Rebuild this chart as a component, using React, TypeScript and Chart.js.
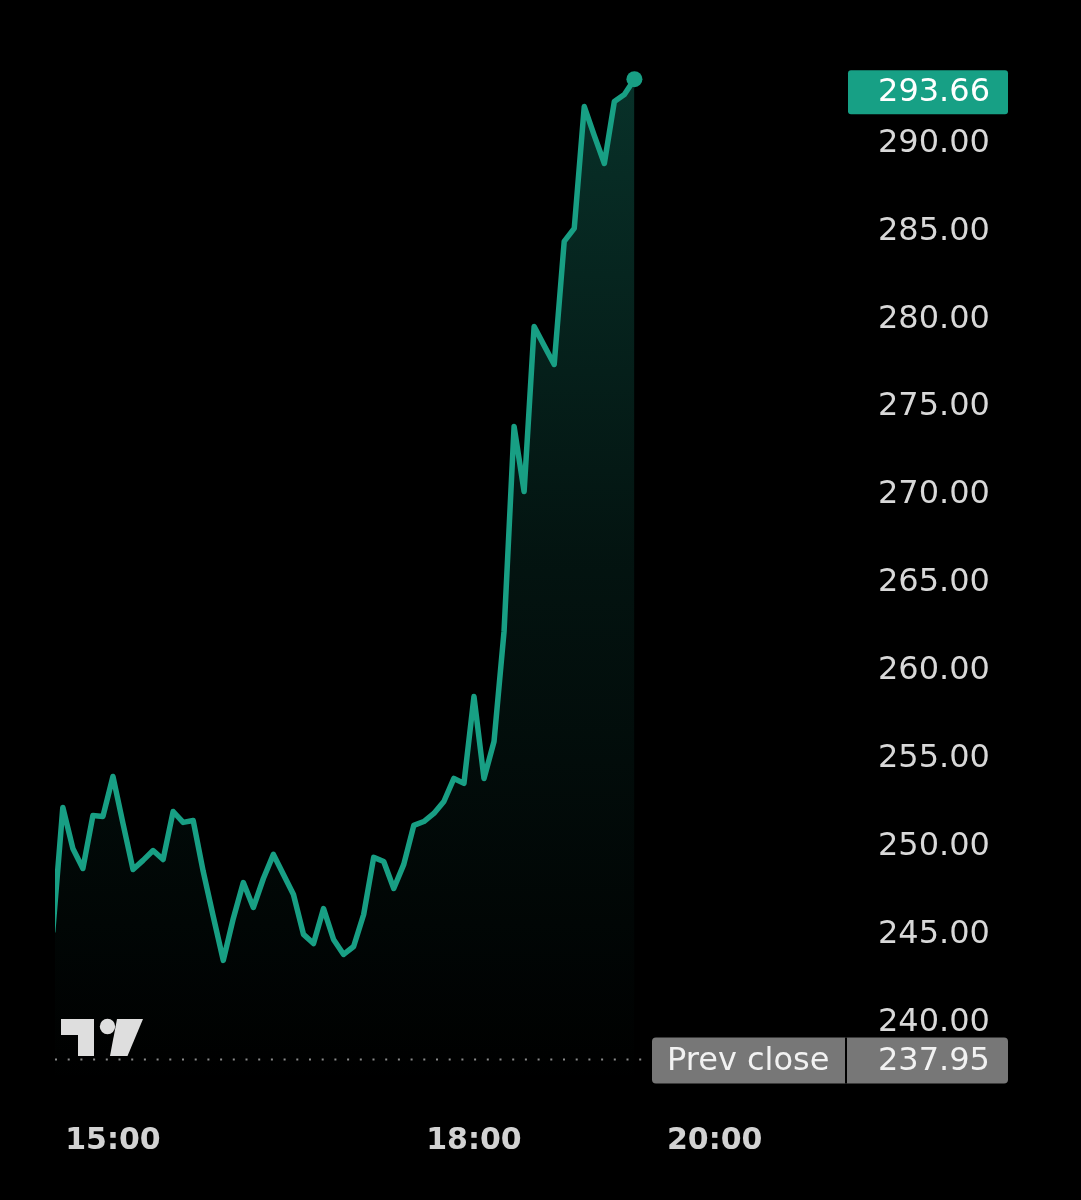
import React, { useEffect, useRef } from "react";
import { Chart, registerables } from "chart.js";

Chart.register(...registerables);

// Times (minutes after midnight), every 5 minutes from 14:30 to 19:20
const startMinute = 14 * 60 + 30;
const prices: number[] = [
  245.2, 252.23, 249.9, 248.76, 251.77, 251.72, 253.99, 251.32, 248.7, 249.22,
  249.78, 249.27, 252.0, 251.38, 251.49, 248.59, 246.03, 243.53, 245.92, 247.96,
  246.54, 248.19, 249.56, 248.42, 247.28, 245.01, 244.49, 246.48, 244.72, 243.87,
  244.32, 246.14, 249.39, 249.16, 247.62, 248.99, 251.21, 251.43, 251.89, 252.57,
  253.88, 253.6, 258.54, 253.88, 255.98, 262.24, 273.9, 270.2, 279.59, 278.5,
  277.43, 284.43, 285.17, 292.1, 290.45, 288.86, 292.39, 292.79, 293.66,
];
const times: number[] = prices.map((_, i) => startMinute + i * 5);

const xTickMinutes = [15 * 60, 18 * 60, 20 * 60];
const yTickValues = [240, 245, 250, 255, 260, 265, 270, 275, 280, 285, 290];
const lastPrice = 293.66;
const prevClose = 237.95;
const prevCloseLabel = "Prev close";

const LINE = "#189f84";
const FONT = "'DejaVu Sans', sans-serif";

function fmtTime(m: number) {
  const h = Math.floor(m / 60);
  const mm = m % 60;
  return `${h}:${mm.toString().padStart(2, "0")}`;
}

function roundRect(ctx: CanvasRenderingContext2D, x: number, y: number, w: number, h: number, r: number) {
  ctx.beginPath();
  ctx.moveTo(x + r, y);
  ctx.lineTo(x + w - r, y);
  ctx.quadraticCurveTo(x + w, y, x + w, y + r);
  ctx.lineTo(x + w, y + h - r);
  ctx.quadraticCurveTo(x + w, y + h, x + w - r, y + h);
  ctx.lineTo(x + r, y + h);
  ctx.quadraticCurveTo(x, y + h, x, y + h - r);
  ctx.lineTo(x, y + r);
  ctx.quadraticCurveTo(x, y, x + r, y);
  ctx.closePath();
}

const overlayPlugin = {
  id: "overlay",
  beforeDatasetsDraw(chart: any) {
    const ctx = chart.ctx as CanvasRenderingContext2D;
    const y = chart.scales.y.getPixelForValue(prevClose) + 1;
    const area = chart.chartArea;
    ctx.save();
    ctx.strokeStyle = "#8a8a8a";
    ctx.lineWidth = 2;
    ctx.setLineDash([2, 10.7]);
    ctx.beginPath();
    ctx.moveTo(area.left, y);
    ctx.lineTo(645, y);
    ctx.stroke();
    ctx.restore();
  },
  afterDraw(chart: any) {
    const ctx = chart.ctx as CanvasRenderingContext2D;
    const yS = chart.scales.y;
    const yLast = yS.getPixelForValue(lastPrice) + 13;
    ctx.save();
    ctx.fillStyle = "#17a085";
    roundRect(ctx, 848, yLast - 22, 160, 44, 3);
    ctx.fill();
    ctx.fillStyle = "#ffffff";
    ctx.font = `32px ${FONT}`;
    ctx.textAlign = "center";
    ctx.textBaseline = "middle";
    ctx.fillText(lastPrice.toFixed(2), 934, yLast + 1);

    const yPc = yS.getPixelForValue(prevClose) + 2;
    ctx.fillStyle = "#777777";
    roundRect(ctx, 652, yPc - 23, 356, 46, 4);
    ctx.fill();
    ctx.fillStyle = "#000000";
    ctx.fillRect(845, yPc - 23, 2, 46);
    ctx.fillStyle = "#f2f2f2";
    ctx.textAlign = "left";
    ctx.fillText(prevCloseLabel, 667, yPc + 1);
    ctx.fillText(prevClose.toFixed(2), 878, yPc + 1);

    // Logo
    ctx.fillStyle = "#dedede";
    ctx.fillRect(61, 1019, 33, 16);
    ctx.fillRect(78, 1019, 16, 37);
    ctx.beginPath();
    ctx.arc(107.5, 1026.5, 7.7, 0, Math.PI * 2);
    ctx.fill();
    ctx.beginPath();
    ctx.moveTo(117, 1019);
    ctx.lineTo(143, 1019);
    ctx.lineTo(127.5, 1056);
    ctx.lineTo(110, 1056);
    ctx.closePath();
    ctx.fill();
    ctx.restore();
  },
};

export default function App() {
  const ref = useRef<HTMLCanvasElement | null>(null);
  useEffect(() => {
    document.body.style.margin = "0";
    document.body.style.background = "#000";
    const canvas = ref.current!;
    const data = times.map((t, i) => ({ x: t, y: prices[i] }));
    const chart = new Chart(canvas, {
      type: "line",
      data: {
        datasets: [
          {
            data,
            borderColor: LINE,
            borderWidth: 5.5,
            borderJoinStyle: "round",
            borderCapStyle: "round",
            tension: 0,
            clip: 0 as any,
            fill: "start",
            backgroundColor: (c: any) => {
              const area = c.chart.chartArea;
              if (!area) return "rgba(26,160,134,0.1)";
              const g = c.chart.ctx.createLinearGradient(0, area.top, 0, area.bottom);
              g.addColorStop(0, "rgba(26,160,134,0.32)");
              g.addColorStop(0.5, "rgba(26,160,134,0.12)");
              g.addColorStop(1, "rgba(26,160,134,0.0)");
              return g;
            },
            pointRadius: (c: any) => (c.dataIndex === prices.length - 1 ? 8 : 0),
            pointBackgroundColor: LINE,
            pointBorderWidth: 0,
            pointHoverRadius: 0,
          },
        ],
      },
      options: {
        animation: false,
        responsive: false,
        events: [],
        layout: { padding: { left: 55, top: 38, right: 0, bottom: 0 } },
        plugins: { legend: { display: false }, tooltip: { enabled: false } },
        scales: {
          x: {
            type: "linear",
            min: 871.1,
            max: 1265,
            grid: { display: false, drawTicks: false },
            border: { display: false },
            afterBuildTicks: (s: any) => {
              s.ticks = xTickMinutes.map((v) => ({ value: v }));
            },
            afterFit: (s: any) => {
              s.height = 116;
              s.paddingLeft = 0;
              s.paddingRight = 0;
              s.paddingTop = 0;
              s.paddingBottom = 0;
            },
            ticks: {
              autoSkip: false,
              maxRotation: 0,
              padding: 39,
              color: "#d2d2d2",
              font: { family: FONT, size: 30, weight: "bold" },
              callback: (v: any) => fmtTime(Number(v)),
            },
          },
          y: {
            position: "right",
            min: 236.5,
            max: 296,
            grid: { display: false, drawTicks: false },
            border: { display: false },
            afterBuildTicks: (s: any) => {
              s.ticks = yTickValues.map((v) => ({ value: v }));
            },
            afterFit: (s: any) => {
              s.width = 236;
              s.paddingLeft = 0;
              s.paddingRight = 0;
              s.paddingTop = 0;
              s.paddingBottom = 0;
            },
            ticks: {
              autoSkip: false,
              padding: 33,
              color: "#d8d8d8",
              font: { family: FONT, size: 32 },
              callback: (v: any) => Number(v).toFixed(2),
            },
          },
        },
      },
      plugins: [overlayPlugin],
    });
    return () => chart.destroy();
  }, []);
  return (
    <div style={{ width: 1081, height: 1200, background: "#000" }}>
      <canvas ref={ref} width={1081} height={1200} style={{ display: "block" }} />
    </div>
  );
}
